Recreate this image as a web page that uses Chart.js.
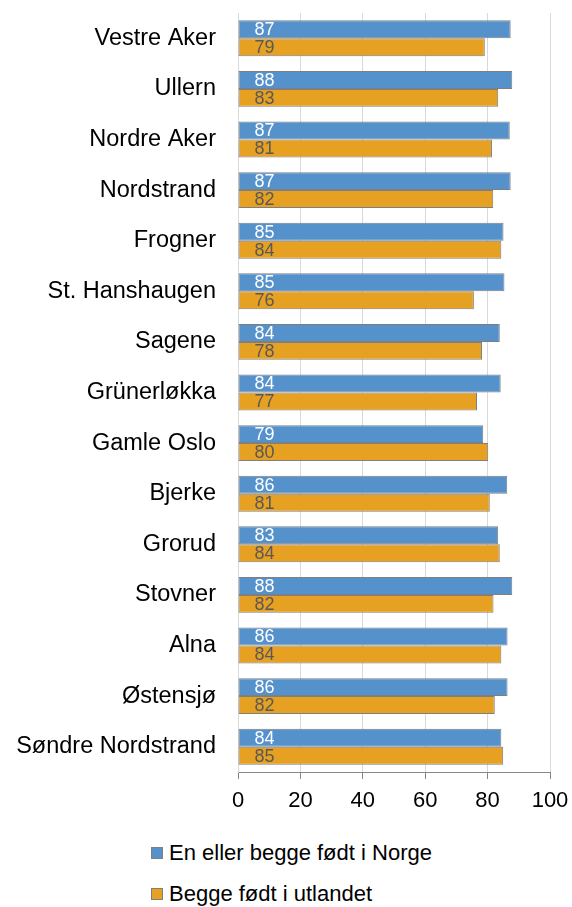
<!DOCTYPE html>
<html>
<head>
    <title>Bydeler i Oslo</title>
    <script src="https://cdn.jsdelivr.net/npm/chart.js"></script>
    <style>
        body {
            margin: 0;
            padding: 0;
            background-color: white;
            font-family: 'Liberation Sans', Arial, sans-serif;
        }

        #wrap {
            position: relative;
            width: 572px;
            height: 907px;
        }

        #chart-box {
            position: absolute;
            left: 0;
            top: 0;
            width: 572px;
            height: 812px;
        }

        .legend-item {
            position: absolute;
            left: 151px;
            height: 26px;
            display: flex;
            align-items: center;
            font-size: 22px;
            color: #000;
            white-space: nowrap;
        }

        .legend-box {
            width: 10px;
            height: 10px;
            border: 1px solid #7f7f7f;
            margin-right: 6px;
        }
    </style>
</head>
<body>
    <div id="wrap">
        <div id="chart-box"><canvas id="chart"></canvas></div>
        <div class="legend-item" style="top: 840px;">
            <span class="legend-box" style="background: #5592cc;"></span>En eller begge født i Norge
        </div>
        <div class="legend-item" style="top: 881px;">
            <span class="legend-box" style="background: #e6a022;"></span>Begge født i utlandet
        </div>
    </div>

    <script>
        const categories = ['Vestre Aker', 'Ullern', 'Nordre Aker', 'Nordstrand', 'Frogner',
            'St. Hanshaugen', 'Sagene', 'Grünerløkka', 'Gamle Oslo', 'Bjerke',
            'Grorud', 'Stovner', 'Alna', 'Østensjø', 'Søndre Nordstrand'];

        // bar lengths and the rounded labels printed on them
        const norgeValues = [87.4, 87.9, 87.1, 87.4, 85.1, 85.4, 83.9, 84.2, 78.6, 86.3, 83.4, 87.9, 86.4, 86.4, 84.4];
        const norgeLabels = [87, 88, 87, 87, 85, 85, 84, 84, 79, 86, 83, 88, 86, 86, 84];
        const utlandValues = [79.1, 83.4, 81.4, 81.8, 84.4, 75.6, 78.2, 76.6, 80.2, 80.7, 83.9, 81.9, 84.4, 82.3, 85.0];
        const utlandLabels = [79, 83, 81, 82, 84, 76, 78, 77, 80, 81, 84, 82, 84, 82, 85];

        const xTicks = [0, 20, 40, 60, 80, 100];

        // draws the values inside each bar, near its base
        const barLabels = {
            id: 'barLabels',
            afterDatasetsDraw(chart) {
                const ctx = chart.ctx;
                const textSets = [norgeLabels, utlandLabels];
                const colors = ['#ffffff', '#595959'];
                ctx.save();
                ctx.font = '18px "Liberation Sans", Arial, sans-serif';
                ctx.textAlign = 'left';
                ctx.textBaseline = 'middle';
                chart.data.datasets.forEach((ds, d) => {
                    const meta = chart.getDatasetMeta(d);
                    ctx.fillStyle = colors[d];
                    meta.data.forEach((bar, i) => {
                        ctx.fillText(String(textSets[d][i]), bar.base + 16, bar.y + 1);
                    });
                });
                ctx.restore();
            }
        };

        new Chart(document.getElementById('chart'), {
            type: 'bar',
            data: {
                labels: categories,
                datasets: [{
                    label: 'En eller begge født i Norge',
                    data: norgeValues,
                    backgroundColor: '#5592cc',
                    borderColor: '#7f7f7f',
                    borderWidth: 1,
                    borderSkipped: false,
                    barPercentage: 1,
                    categoryPercentage: 0.71
                }, {
                    label: 'Begge født i utlandet',
                    data: utlandValues,
                    backgroundColor: '#e6a022',
                    borderColor: '#7f7f7f',
                    borderWidth: 1,
                    borderSkipped: false,
                    barPercentage: 1,
                    categoryPercentage: 0.71
                }]
            },
            options: {
                indexAxis: 'y',
                responsive: true,
                maintainAspectRatio: false,
                animation: false,
                layout: {
                    padding: { top: 13, right: 22, left: 0, bottom: 0 }
                },
                plugins: {
                    legend: { display: false },
                    tooltip: { enabled: false }
                },
                scales: {
                    x: {
                        min: 0,
                        max: 100,
                        afterBuildTicks: scale => {
                            scale.ticks = xTicks.map(v => ({ value: v }));
                        },
                        afterFit: scale => {
                            scale.height = 40;
                            scale.paddingLeft = 0;
                            scale.paddingRight = 0;
                        },
                        grid: {
                            color: '#d9d9d9',
                            tickColor: '#868686',
                            tickLength: 7
                        },
                        border: { color: '#868686' },
                        ticks: {
                            color: '#000',
                            padding: 9,
                            font: { family: '"Liberation Sans", Arial, sans-serif', size: 22 }
                        }
                    },
                    y: {
                        afterFit: scale => {
                            scale.width = 238;
                            scale.paddingTop = 0;
                            scale.paddingBottom = 0;
                        },
                        grid: { display: false, drawTicks: false },
                        border: { display: true, color: '#d9d9d9' },
                        ticks: {
                            color: '#000',
                            padding: 22,
                            font: { family: '"Liberation Sans", Arial, sans-serif', size: 23.5 }
                        }
                    }
                }
            },
            plugins: [barLabels]
        });
    </script>
</body>
</html>
